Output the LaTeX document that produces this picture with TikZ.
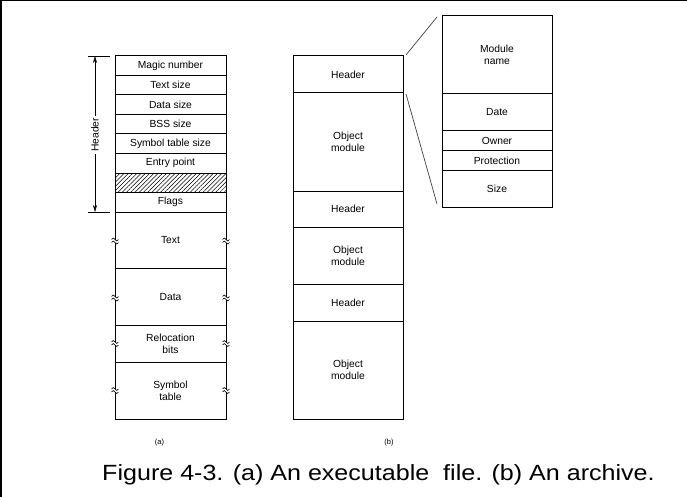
\documentclass[tikz,border=0pt]{standalone}
\usepackage{fontspec}
\setmainfont{Liberation Sans}
\usetikzlibrary{arrows.meta,patterns.meta,positioning,calc}
\tikzset{cell/.style={draw,line width=1pt,minimum width=111pt,inner sep=0pt,outer sep=0pt,
  align=center,font=\fontsize{10.3}{12}\selectfont}}

\begin{document}
\begin{tikzpicture}[x=1pt,y=-1pt]
\useasboundingbox(0,0)rectangle(687,497);
\draw[line width=3pt](0,497)--(0,0)--(687,0);
% (a) executable file
\node[cell,minimum height=19.5pt,anchor=north](magic)at(170.5,56){Magic number};
\node[cell,minimum height=19.5pt,below=0pt of magic](tsize){Text size};
\node[cell,minimum height=19.5pt,below=0pt of tsize](dsize){Data size};
\node[cell,minimum height=19.5pt,below=0pt of dsize](bss){BSS size};
\node[cell,minimum height=19.5pt,below=0pt of bss](symsize){Symbol table size};
\node[cell,minimum height=19.5pt,below=0pt of symsize](entry){Entry point};
\node[cell,minimum height=19.5pt,below=0pt of entry,pattern={Lines[angle=45,distance=3pt,line width=0.5pt]}](spare){};
\node[cell,minimum height=19.5pt,below=0pt of spare](flags){Flags};
\node[cell,minimum height=56pt,below=0pt of flags](text){Text};
\node[cell,minimum height=57.5pt,below=0pt of text](data){Data};
\node[cell,minimum height=36.5pt,below=0pt of data](reloc){Relocation\\bits};
\node[cell,minimum height=57pt,below=0pt of reloc](symtab){Symbol\\table};
\foreach \y in {241,298,343.5,390.5}\foreach \x in {115,226}{
\fill[white](\x-4,\y-1.5)rectangle(\x+4,\y+1.5);
\draw[semithick](\x-3.5,\y-1.5)sin(\x-1.75,\y-3)cos(\x,\y-1.5)sin(\x+1.75,\y)cos(\x+3.5,\y-1.5)
(\x-3.5,\y+1.5)sin(\x-1.75,\y)cos(\x,\y+1.5)sin(\x+1.75,\y+3)cos(\x+3.5,\y+1.5);}
\draw[thin](88,56)--(110,56)(88,212)--(110,212);
\coordinate(htop)at(95,56);\coordinate(hbot)at(95,212);
\node[rotate=90,inner sep=2pt,font=\fontsize{10.3}{12}\selectfont](hlabel)at(95,135){Header};
\draw[thin,-{Stealth[length=7pt,width=4pt]}](hlabel)--(htop);
\draw[thin,-{Stealth[length=7pt,width=4pt]}](hlabel)--(hbot);
% (b) archive
\node[cell,minimum width=110pt,minimum height=37pt,anchor=north](hdra)at(348,56){Header};
\node[cell,minimum width=110pt,minimum height=98pt,below=0pt of hdra](obja){Object\\module};
\node[cell,minimum width=110pt,minimum height=36pt,below=0pt of obja](hdrb){Header};
\node[cell,minimum width=110pt,minimum height=57.5pt,below=0pt of hdrb](objb){Object\\module};
\node[cell,minimum width=110pt,minimum height=37pt,below=0pt of objb](hdrc){Header};
\node[cell,minimum width=110pt,minimum height=97.5pt,below=0pt of hdrc](objc){Object\\module};
% header detail
\node[cell,minimum width=110pt,minimum height=78pt,anchor=north](mname)at(497,16){Module\\name};
\node[cell,minimum width=110pt,minimum height=37pt,below=0pt of mname](date){Date};
\node[cell,minimum width=110pt,minimum height=19.5pt,below=0pt of date](owner){Owner};
\node[cell,minimum width=110pt,minimum height=20pt,below=0pt of owner](prot){Protection};
\node[cell,minimum width=110pt,minimum height=36.5pt,below=0pt of prot](msize){Size};
\draw[line width=0.7pt,black!75]($(hdra.north east)+(3,-1)$)--($(mname.north west)+(-5,1)$);
\draw[line width=0.7pt,black!75]($(hdra.south east)+(3,1)$)--($(msize.south west)+(-5,-3)$);
\node[font=\fontsize{7.5}{8}\selectfont](laba)at(159.5,443){(a)};
\node[font=\fontsize{7.5}{8}\selectfont](labb)at(389,443){(b)};
\node[anchor=base west,inner sep=0pt,xscale=1.14,font=\fontsize{22}{26}\selectfont](caption)at(102,480)
{Figure 4-3. (a) An executable\ \ file. (b) An archive.};
\end{tikzpicture}
\end{document}
